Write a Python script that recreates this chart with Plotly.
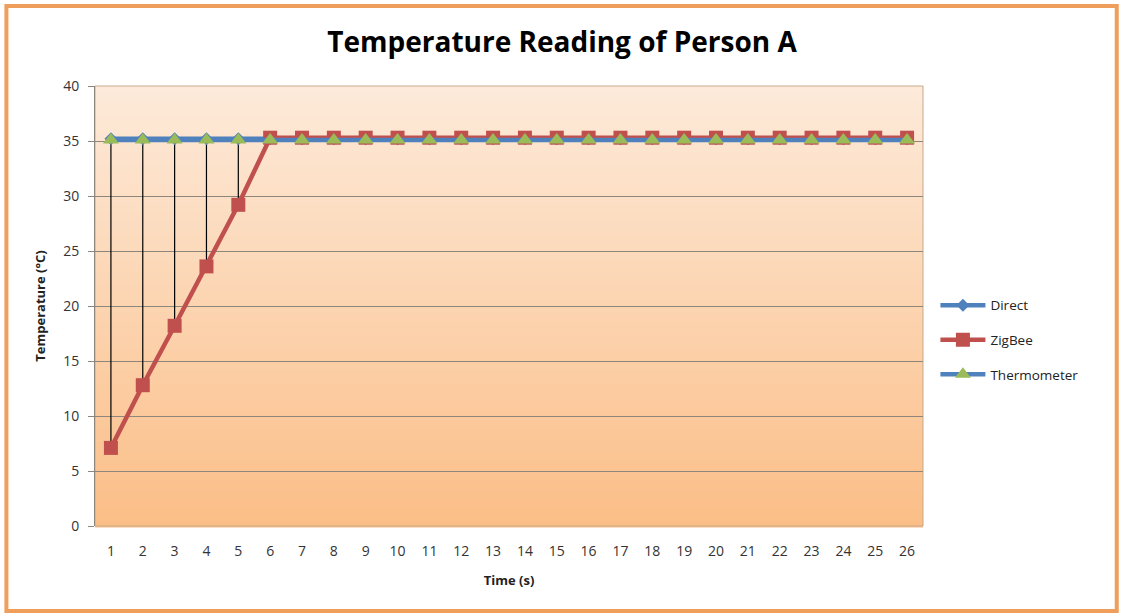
import plotly.graph_objects as go

# data
time_s = list(range(1, 27))
direct = [35.2] * 26
zigbee = [7.1, 12.8, 18.2, 23.6, 29.2] + [35.3] * 21
thermometer = [35.1] * 26
y_ticks = [0, 5, 10, 15, 20, 25, 30, 35, 40]

BLUE = "#4F81BD"
RED = "#C0504D"
GREEN = "#9BBB59"

fig = go.Figure()

# high-low lines between the highest and lowest series at each time step
hl_x, hl_y = [], []
for t, a, b, c in zip(time_s, direct, zigbee, thermometer):
    hl_x += [t, t, None]
    hl_y += [max(a, b, c), min(a, b, c), None]
fig.add_trace(go.Scatter(x=hl_x, y=hl_y, mode="lines", line=dict(color="black", width=1.2),
                         showlegend=False, hoverinfo="skip"))

fig.add_trace(go.Scatter(x=time_s, y=direct, name="Direct", mode="lines+markers", legendgroup="d",
                         line=dict(color=BLUE, width=4.5),
                         marker=dict(symbol="diamond", size=10, color=BLUE)))
fig.add_trace(go.Scatter(x=time_s, y=zigbee, name="ZigBee", mode="lines+markers", legendgroup="z",
                         line=dict(color=RED, width=4.5),
                         marker=dict(symbol="square", size=14, color=RED)))
fig.add_trace(go.Scatter(x=time_s, y=thermometer, name="Thermometer", mode="lines+markers",
                         legendgroup="t",
                         line=dict(color=BLUE, width=4.5),
                         marker=dict(symbol="triangle-up", size=14, color=GREEN)))

# vertical gradient for the plot area (light peach to orange)
shapes = []
n = 140
top, bot = (253, 234, 218), (251, 190, 135)
for i in range(n):
    f = i / (n - 1)
    col = tuple(round(top[k] + (bot[k] - top[k]) * f) for k in range(3))
    shapes.append(dict(type="rect", xref="x domain", yref="y domain",
                       x0=0, x1=1, y0=1 - (i + 1.5) / n, y1=1 - i / n,
                       fillcolor="rgb(%d,%d,%d)" % col, line=dict(width=0), layer="below"))
# plot area border
shapes.append(dict(type="rect", xref="x domain", yref="y domain", x0=0, x1=1, y0=0, y1=1,
                   line=dict(color="#C9A88A", width=1), layer="below"))
# outer orange frame
shapes.append(dict(type="rect", xref="paper", yref="paper", x0=-0.107, x1=1.234, y0=-0.193, y1=1.182,
                   line=dict(color="#F09E5C", width=4), layer="below"))

fig.update_layout(
    width=1123, height=616,
    margin=dict(l=95, r=200, t=86, b=90),
    paper_bgcolor="white",
    plot_bgcolor="rgba(0,0,0,0)",
    font=dict(family="Open Sans, Liberation Sans, sans-serif", size=14, color="#333333"),
    title=dict(text="<b>Temperature Reading of Person A</b>", x=0.564, xanchor="center", xref="paper",
               y=0.932, yanchor="middle",
               font=dict(family="Open Sans, sans-serif", size=28, color="black")),
    shapes=shapes,
    showlegend=True,
    legend=dict(x=1.015, xanchor="left", y=0.423, yanchor="middle",
                font=dict(size=13.5, color="#222222"), bgcolor="rgba(0,0,0,0)",
                tracegroupgap=14, itemwidth=45),
)

fig.update_xaxes(range=[0.5, 26.5], tickmode="array", tickvals=time_s,
                 ticktext=[str(t) for t in time_s], showgrid=False, zeroline=False,
                 showline=False, ticks="", ticklabelstandoff=15,
                 title=dict(text="<b>Time (s)</b>", font=dict(size=13, color="#222222"), standoff=16))
fig.update_yaxes(range=[0, 40], tickmode="array", tickvals=y_ticks, showgrid=True,
                 gridcolor="#8E857B", gridwidth=1, zeroline=False, showline=True,
                 linecolor="#8E857B", ticks="outside", ticklen=6, tickcolor="#8E857B",
                 ticklabelstandoff=6,
                 title=dict(text="<b>Temperature (°C)</b>", font=dict(size=13, color="#222222"), standoff=14))

fig.write_html("out.html", config={"displayModeBar": False},
               post_script="document.body.style.margin='0';")
